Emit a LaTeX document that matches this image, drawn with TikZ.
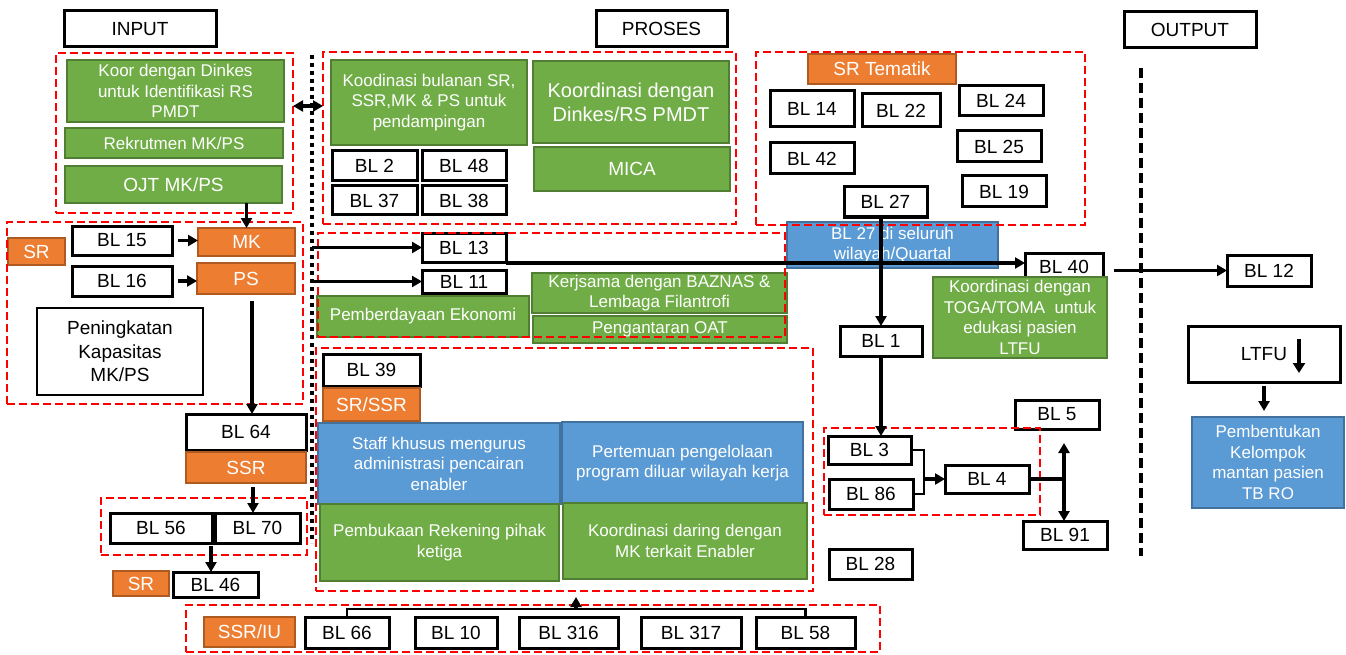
\documentclass[tikz,border=0pt]{standalone}
\usepackage{fontspec}
\setmainfont{Liberation Sans}
\usetikzlibrary{arrows.meta,calc}

\definecolor{grn}{HTML}{70AD47}
\definecolor{grnB}{HTML}{507E32}
\definecolor{blu}{HTML}{5B9BD5}
\definecolor{bluB}{HTML}{41719C}
\definecolor{org}{HTML}{ED7D31}
\definecolor{orgB}{HTML}{AE5A21}

\newcommand{\txtS}{\fontsize{17}{20.5}\selectfont}
\newcommand{\txtM}{\fontsize{19}{23.5}\selectfont}
\newcommand{\txtL}{\fontsize{20}{24}\selectfont}

% box by its corners: style, name, x1, y1, x2, y2, text
\newcommand{\place}[7]{\node[#1, minimum width={#5-#3}, minimum height={#6-#4}] (#2) at ({(#3+#5)/2},{(#4+#6)/2}) {#7};}

\tikzset{
  base/.style={inner sep=0pt, outer sep=0pt, align=center, font=\txtM},
  wbox/.style={base, draw=black, line width=3pt, fill=white},
  gbox/.style={base, draw=grnB, line width=2pt, fill=grn, text=white, font=\txtS},
  bbox/.style={base, draw=bluB, line width=2pt, fill=blu, text=white, font=\txtS},
  obox/.style={base, draw=orgB, line width=2pt, fill=org, text=white},
  grp/.style={inner sep=0pt, outer sep=0pt, draw=red, line width=2.8pt, dash pattern=on 8pt off 4pt},
  ln/.style={line width=3.2pt},
  arr/.style={line width=3.2pt, -{Triangle[length=10pt,width=11pt]}},
  arr2/.style={line width=3.2pt, {Triangle[length=10pt,width=11pt]}-{Triangle[length=10pt,width=11pt]}},
}

\begin{document}
\begin{tikzpicture}[x=1pt,y=-1pt]
\useasboundingbox (0,0) rectangle (1346,655);

% column headers
\place{wbox}{input}{64}{11}{216}{47}{INPUT}
\place{wbox}{proses}{596}{11}{727}{47}{PROSES}
\place{wbox}{output}{1124}{12}{1256}{48}{OUTPUT}

% input column
\place{gbox}{koor}{67}{60}{284}{122}{Koor dengan Dinkes\\untuk Identifikasi RS\\PMDT}
\place{gbox}{rekrut}{65}{128}{283}{158}{Rekrutmen MK/PS}
\place{gbox,font=\txtM}{ojt}{65}{166}{282}{203}{OJT MK/PS}
\place{obox}{sr1}{8}{238}{65}{265}{SR}
\place{wbox}{bl15}{72}{226}{172}{255}{BL 15}
\place{wbox}{bl16}{72}{266}{172}{296}{BL 16}
\place{obox}{mk}{198}{228}{295}{256}{MK}
\place{obox}{ps}{197}{263}{295}{294}{PS}
\place{wbox,line width=2.6pt}{kap}{37}{308}{203}{395}{Peningkatan\\Kapasitas\\MK/PS}
\place{wbox}{bl64}{186}{414}{306}{450}{BL 64}
\place{obox}{ssr}{186}{452}{306}{483}{SSR}
\place{wbox}{bl56}{110}{513}{212}{543}{BL 56}
\place{wbox}{bl70}{215}{513}{300}{543}{BL 70}
\place{obox}{sr2}{113}{571}{169}{596}{SR}
\place{wbox}{bl46}{173}{572}{258}{597}{BL 46}

% process: coordination block
\place{gbox}{koodbul}{331}{60}{527}{145}{Koodinasi bulanan SR,\\SSR,MK \& PS untuk\\pendampingan}
\place{gbox,font=\txtL}{dinkes}{533}{61}{729}{143}{Koordinasi dengan\\Dinkes/RS PMDT}
\place{gbox,font=\txtM}{mica}{534}{147}{730}{191}{MICA}
\place{wbox}{bl2}{332}{151}{417}{181}{BL 2}
\place{wbox}{bl48}{422}{151}{506}{181}{BL 48}
\place{wbox}{bl37}{332}{186}{417}{215}{BL 37}
\place{wbox}{bl38}{422}{186}{506}{215}{BL 38}

% process: thematic SR block
\place{obox}{srt}{808}{54}{956}{84}{SR Tematik}
\place{wbox}{bl14}{770}{91}{854}{127}{BL 14}
\place{wbox}{bl22}{862}{94}{940}{127}{BL 22}
\place{wbox}{bl24}{959}{86}{1043}{116}{BL 24}
\place{wbox}{bl42}{770}{143}{854}{174}{BL 42}
\place{wbox}{bl25}{957}{131}{1041}{162}{BL 25}
\place{wbox}{bl19}{962}{176}{1046}{207}{BL 19}
\place{wbox}{bl27}{844}{187}{927}{217}{BL 27}

% process: economic empowerment block
\place{wbox}{bl13}{422}{233}{506}{262}{BL 13}
\place{wbox}{bl11}{422}{270}{506}{293}{BL 11}
\place{gbox}{pemb}{317}{296}{529}{337}{Pemberdayaan Ekonomi}
\place{gbox}{baznas}{532}{273}{787}{313}{Kerjsama dengan BAZNAS \&\\Lembaga Filantrofi}
\place{gbox}{oat}{533}{316}{787}{343}{\raisebox{-4pt}{Pengantaran OAT}}

% process: right side
\place{bbox}{bl27w}{787}{222}{998}{268}{BL 27 di seluruh\\wilayah/Quartal}
\place{wbox}{bl40}{1025}{253}{1103}{281}{BL 40}
\place{gbox}{toga}{933}{277}{1107}{358}{Koordinasi dengan\\TOGA/TOMA\ \ untuk\\edukasi pasien\\LTFU}
\place{wbox}{bl1}{840}{326}{922}{356}{BL 1}
\place{wbox}{bl5}{1015}{400}{1099}{429}{BL 5}
\place{wbox}{bl3}{828}{436}{911}{464}{BL 3}
\place{wbox}{bl86}{829}{479}{913}{509}{BL 86}
\place{wbox}{bl4}{945}{465}{1029}{493}{BL 4}
\place{wbox}{bl91}{1023}{521}{1107}{549}{BL 91}
\place{wbox}{bl28}{829}{549}{912}{579}{BL 28}

% process: enabler block
\place{wbox}{bl39}{323}{354}{420}{386}{BL 39}
\place{obox}{srssr}{323}{388}{420}{421}{SR/SSR}
\place{bbox}{staff}{318}{423}{560}{504}{Staff khusus mengurus\\administrasi pencairan\\enabler}
\place{bbox}{pert}{562}{422}{803}{504}{Pertemuan pengelolaan\\program diluar wilayah kerja}
\place{gbox}{rek}{320}{504}{559}{581}{Pembukaan Rekening pihak\\ketiga}
\place{gbox}{daring}{563}{503}{807}{579}{Koordinasi daring dengan\\MK terkait Enabler}

% bottom row
\place{obox}{ssriu}{204}{617}{295}{647}{SSR/IU}
\place{wbox}{bl66}{305}{617}{389}{648}{BL 66}
\place{wbox}{bl10}{415}{617}{497}{648}{BL 10}
\place{wbox}{bl316}{519}{617}{618}{648}{BL 316}
\place{wbox}{bl317}{641}{617}{741}{648}{BL 317}
\place{wbox}{bl58}{756}{617}{855}{648}{BL 58}

% output column
\place{wbox}{bl12}{1227}{255}{1311}{286}{BL 12}
\place{wbox,font=\txtM}{ltfu}{1188}{326}{1340}{382}{LTFU}
\place{bbox}{kel}{1192}{417}{1344}{508}{Pembentukan\\Kelompok\\mantan pasien\\TB RO}

% dashed groupings
\place{grp}{g1}{56}{53}{293}{213}{}
\place{grp}{g2}{323}{52}{736}{224}{}
\place{grp}{g3}{756}{52}{1085}{225}{}
\place{grp}{g4}{7}{222}{303}{404}{}
\place{grp}{g5}{318}{233}{785}{337}{}
\place{grp}{g6}{824}{428}{1040}{515}{}
\place{grp}{g7}{101}{498}{307}{555}{}
\place{grp}{g8}{186}{605}{880}{652}{}
\place{grp}{g9}{316}{348}{813}{591}{}

% section separators
\coordinate (dt) at (312,55);
\coordinate (db) at (312,543);
\draw[line width=4.5pt, dash pattern=on 4pt off 4pt] (dt) -- (db);
\coordinate (ot) at (1141,68);
\coordinate (ob) at (1141,556);
\draw[line width=3.2pt, dash pattern=on 10pt off 5pt] (ot) -- (ob);

% connectors: input column
\draw[arr] (ojt.south -| mk.north) -- (mk.north);
\draw[arr] ([xshift=6pt]bl15.east) -- (mk.west |- bl15.east);
\draw[arr] ([xshift=6pt]bl16.east) -- (ps.west |- bl16.east);
\draw[arr] ([xshift=6pt,yshift=-7pt]ps.south) -- ([xshift=6pt]bl64.north);
\draw[arr] ([xshift=7pt,yshift=-4pt]ssr.south) -- ([xshift=7pt]ssr.south |- bl70.north);
\draw[arr] ([xshift=-1pt,yshift=-3pt]bl56.south east) -- ([xshift=-1pt]bl56.south east |- bl46.north);
\coordinate (da) at (310,106);
\draw[arr2] (g1.east |- da) -- (g2.west |- da);

% connectors: process
\draw[arr] (bl13.west -| dt) -- (bl13.west);
\draw[arr] (bl11.west -| dt) -- (bl11.west);
\coordinate (j) at ([yshift=-1pt]bl13.south east);
\draw[arr] (j) -- (j -| bl40.west);
\draw[arr] (bl27.south -| bl1.north) -- (bl1.north);
\draw[arr] (bl1.south) -- (bl1.south |- bl3.north);
\coordinate (bk) at (924,0);
\draw[line width=2.4pt] (bl3.east) -| (bk |- bl86.east) -- (bl86.east);
\draw[arr] (bk |- bl4.west) -- (bl4.west);
\coordinate (vt) at (1064,443);
\draw[ln] (bl4.east) -- (vt |- bl4.east);
\draw[arr2] (vt) -- (vt |- bl91.north);
\coordinate (bkt) at (576,609);
\coordinate (bkttop) at (576,597);
\draw[line width=2.6pt] (bl66.north) |- (bkt) -| (bl58.north);
\draw[arr] (bkt) -- (bkttop);

% connectors: output
\draw[arr] ([xshift=11pt]bl40.east |- bl12.west) -- (bl12.west);
\draw[arr] ([yshift=-4pt]ltfu.south) -- ([yshift=6pt]ltfu.south |- kel.north);
\draw[line width=3.8pt, -{Triangle[length=10pt,width=12pt]}] ([xshift=35pt,yshift=15pt]ltfu.center) -- ([xshift=35pt,yshift=-19pt]ltfu.center);
\end{tikzpicture}
\end{document}
